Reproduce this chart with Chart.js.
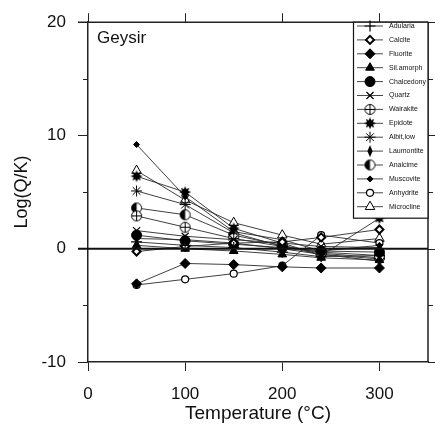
<!DOCTYPE html>
<html>
<head>
<meta charset="utf-8">
<script src="https://cdn.jsdelivr.net/npm/chart.js@4.4.1/dist/chart.umd.min.js"></script>
<style>
  html, body { margin: 0; padding: 0; background: #fff; }
  #wrap { width: 435px; height: 432px; }
</style>
</head>
<body>
<div id="wrap"><canvas id="chart" width="435" height="432"></canvas></div>
<script>
// temperatures (°C) of the sampled points
const temps = [50, 100, 150, 200, 240, 300];
const xTickValues = [0, 100, 200, 300];
const yTickValues = [-10, -5, 0, 5, 10, 15, 20];

// Log(Q/K) per mineral
const adularia   = [0.6, 0.3, 0.1, -0.3, -0.7, -0.6];
const calcite    = [-0.25, 0.2, 0.5, 0.6, 1.0, 1.7];
const fluorite   = [-3.1, -1.3, -1.4, -1.6, -1.7, -1.7];
const silAmorph  = [0.3, 0.0, -0.2, -0.5, -0.8, -1.0];
const chalcedony = [1.2, 0.7, 0.4, 0.1, -0.2, -0.3];
const quartz     = [1.6, 1.1, 0.8, 0.5, 0.2, 0.1];
const wairakite  = [2.9, 1.9, 0.9, 0.2, -0.3, -0.6];
const epidote    = [6.4, 5.0, 1.8, 0.5, -0.6, 2.7];
const albitLow   = [5.1, 3.9, 1.4, 0.2, -0.5, -0.9];
const laumontite = [0.9, 0.8, 0.5, 0.0, -0.5, -1.1];
const analcime   = [3.6, 3.0, 1.2, 0.3, -0.4, -0.8];
const muscovite  = [9.2, 4.6, 1.5, 0.8, -0.2, 0.3];
const anhydrite  = [-3.2, -2.7, -2.2, -1.5, 1.2, 0.5];
const microcline = [6.9, 4.3, 2.3, 1.2, 0.4, 0.9];

function marker(size, draw) {
  const c = document.createElement("canvas");
  c.width = size;
  c.height = size;
  const g = c.getContext("2d");
  g.translate(size / 2, size / 2);
  g.strokeStyle = "#000";
  g.fillStyle = "#000";
  draw(g);
  return c;
}

const wairakiteMark = marker(13, (g) => {
  g.beginPath();
  g.arc(0, 0, 5, 0, Math.PI * 2);
  g.fillStyle = "#fff";
  g.fill();
  g.lineWidth = 1;
  g.stroke();
  g.beginPath();
  g.moveTo(-5, 0); g.lineTo(5, 0);
  g.moveTo(0, -5); g.lineTo(0, 5);
  g.stroke();
});

const epidoteMark = marker(14, (g) => {
  g.beginPath();
  for (let i = 0; i < 16; i++) {
    const r = i % 2 === 0 ? 6 : 3.2;
    const a = (i * Math.PI) / 8 - Math.PI / 2;
    g.lineTo(Math.cos(a) * r, Math.sin(a) * r);
  }
  g.closePath();
  g.fill();
});

const laumontiteMark = marker(14, (g) => {
  g.beginPath();
  g.moveTo(0, -6); g.lineTo(2.6, 0); g.lineTo(0, 6); g.lineTo(-2.6, 0);
  g.closePath();
  g.fill();
});

const analcimeMark = marker(13, (g) => {
  g.beginPath();
  g.arc(0, 0, 5, 0, Math.PI * 2);
  g.fillStyle = "#fff";
  g.fill();
  g.lineWidth = 1;
  g.stroke();
  g.beginPath();
  g.arc(0, 0, 5, Math.PI / 2, Math.PI * 1.5);
  g.closePath();
  g.fillStyle = "#000";
  g.fill();
});

function series(label, values, style) {
  return Object.assign({
    label,
    data: values.map((v, i) => ({ x: temps[i], y: v })),
    borderColor: "#2a2a2a",
    borderWidth: 0.9,
    pointBorderColor: "#000",
    pointBackgroundColor: "#000",
    pointBorderWidth: 1,
    pointRadius: 5,
    pointHoverRadius: 5,
    tension: 0
  }, style);
}

const datasets = [
  series("Adularia", adularia, { pointStyle: "cross", pointRadius: 5.5, pointBorderWidth: 1.2 }),
  series("Calcite", calcite, { pointStyle: "rectRot", pointRadius: 4, pointBackgroundColor: "#fff", pointBorderWidth: 2 }),
  series("Fluorite", fluorite, { pointStyle: "rectRot", pointRadius: 5 }),
  series("Sil.amorph", silAmorph, { pointStyle: "triangle", pointRadius: 5 }),
  series("Chalcedony", chalcedony, { pointStyle: "circle", pointRadius: 5 }),
  series("Quartz", quartz, { pointStyle: "crossRot", pointRadius: 5, pointBorderWidth: 1.2 }),
  series("Wairakite", wairakite, { pointStyle: wairakiteMark }),
  series("Epidote", epidote, { pointStyle: epidoteMark }),
  series("Albit,low", albitLow, { pointStyle: "star", pointRadius: 5.5, pointBorderWidth: 1 }),
  series("Laumontite", laumontite, { pointStyle: laumontiteMark }),
  series("Analcime", analcime, { pointStyle: analcimeMark }),
  series("Muscovite", muscovite, { pointStyle: "rectRot", pointRadius: 3 }),
  series("Anhydrite", anhydrite, { pointStyle: "circle", pointRadius: 3.5, pointBackgroundColor: "#fff", pointBorderWidth: 1.2 }),
  series("Microcline", microcline, { pointStyle: "triangle", pointRadius: 5.5, pointBackgroundColor: "#fff", pointBorderWidth: 1 })
];

// frame, minor ticks, zero line, site label and the boxed legend
const framePlugin = {
  id: "frame",
  afterDatasetsDraw(chart) {
    const { ctx, chartArea: a, scales } = chart;
    const x = scales.x, y = scales.y;
    ctx.save();
    ctx.strokeStyle = "#222";
    ctx.lineWidth = 1.5;
    ctx.beginPath();
    ctx.moveTo(a.left - 10, a.top); ctx.lineTo(a.right, a.top);
    ctx.moveTo(a.right, a.top); ctx.lineTo(a.right, a.bottom);
    ctx.stroke();

    ctx.lineWidth = 1;
    ctx.beginPath();
    xTickValues.forEach((v) => {
      const px = Math.round(x.getPixelForValue(v)) + 0.5;
      ctx.moveTo(px, a.top); ctx.lineTo(px, a.top - 9);
    });
    yTickValues.forEach((v) => {
      const py = Math.round(y.getPixelForValue(v)) + 0.5;
      const len = v % 10 === 0 ? 9 : 5;
      ctx.moveTo(a.right, py); ctx.lineTo(a.right + len, py);
      if (v % 10 !== 0) { ctx.moveTo(a.left, py); ctx.lineTo(a.left - 5, py); }
    });
    ctx.stroke();

    const y0 = y.getPixelForValue(0);
    ctx.lineWidth = 2;
    ctx.strokeStyle = "#111";
    ctx.beginPath();
    ctx.moveTo(a.left - 10, y0); ctx.lineTo(a.right, y0);
    ctx.stroke();

    ctx.fillStyle = "#111";
    ctx.font = "17px 'Liberation Sans', Arial, sans-serif";
    ctx.textBaseline = "alphabetic";
    ctx.fillText("Geysir", a.left + 9, 43);

    // legend box
    const bx = 353, by = a.top, bw = a.right - 353, bh = 196;
    ctx.fillStyle = "#fff";
    ctx.fillRect(bx, by, bw, bh);
    ctx.lineWidth = 1.2;
    ctx.strokeStyle = "#111";
    ctx.strokeRect(bx + 0.5, by, bw - 0.5, bh);

    ctx.font = "7px 'Liberation Sans', Arial, sans-serif";
    ctx.textBaseline = "middle";
    chart.data.datasets.forEach((ds, i) => {
      const ry = 26 + i * 13.9;
      ctx.strokeStyle = "#333";
      ctx.lineWidth = 0.9;
      ctx.beginPath();
      ctx.moveTo(357, ry); ctx.lineTo(383, ry);
      ctx.stroke();
      ctx.fillStyle = ds.pointBackgroundColor;
      ctx.strokeStyle = ds.pointBorderColor;
      ctx.lineWidth = ds.pointBorderWidth;
      Chart.helpers.drawPoint(ctx, {
        pointStyle: ds.pointStyle,
        radius: ds.pointRadius,
        rotation: 0,
        borderWidth: ds.pointBorderWidth
      }, 370, ry);
      ctx.fillStyle = "#111";
      ctx.fillText(ds.label, 389, ry);
    });
    ctx.restore();
  }
};

new Chart(document.getElementById("chart"), {
  type: "line",
  data: { datasets },
  plugins: [framePlugin],
  options: {
    responsive: false,
    animation: false,
    layout: { padding: { top: 17, right: 4, left: 0, bottom: 0 } },
    plugins: { legend: { display: false }, tooltip: { enabled: false } },
    scales: {
      x: {
        type: "linear",
        position: "bottom",
        min: 0,
        max: 350,
        afterBuildTicks: (s) => { s.ticks = xTickValues.map((v) => ({ value: v })); },
        afterFit: (s) => { s.height = 70; },
        grid: { drawOnChartArea: false, tickLength: 9, color: "#222", lineWidth: 1 },
        border: { color: "#222", width: 1.5 },
        ticks: {
          color: "#111",
          padding: 13,
          maxRotation: 0,
          font: { family: "'Liberation Sans', Arial, sans-serif", size: 17 }
        },
        title: {
          display: true,
          text: "Temperature (°C)",
          color: "#111",
          padding: { top: 0, bottom: 7 },
          font: { family: "'Liberation Sans', Arial, sans-serif", size: 19 }
        }
      },
      y: {
        type: "linear",
        position: "left",
        min: -10,
        max: 20,
        afterBuildTicks: (s) => { s.ticks = yTickValues.map((v) => ({ value: v })); },
        afterFit: (s) => { s.width = 88; },
        grid: {
          drawOnChartArea: false,
          tickLength: 10,
          lineWidth: 1,
          color: (c) => (c.tick && c.tick.value % 10 === 0 ? "#222" : "rgba(0,0,0,0)")
        },
        border: { color: "#222", width: 1.5 },
        ticks: {
          color: "#111",
          padding: 12,
          font: { family: "'Liberation Sans', Arial, sans-serif", size: 17 },
          callback: (v) => (v % 10 === 0 ? String(v) : "")
        },
        title: {
          display: true,
          text: "Log(Q/K)",
          color: "#111",
          padding: { top: 11, bottom: 0 },
          font: { family: "'Liberation Sans', Arial, sans-serif", size: 18 }
        }
      }
    }
  }
});
</script>
</body>
</html>
